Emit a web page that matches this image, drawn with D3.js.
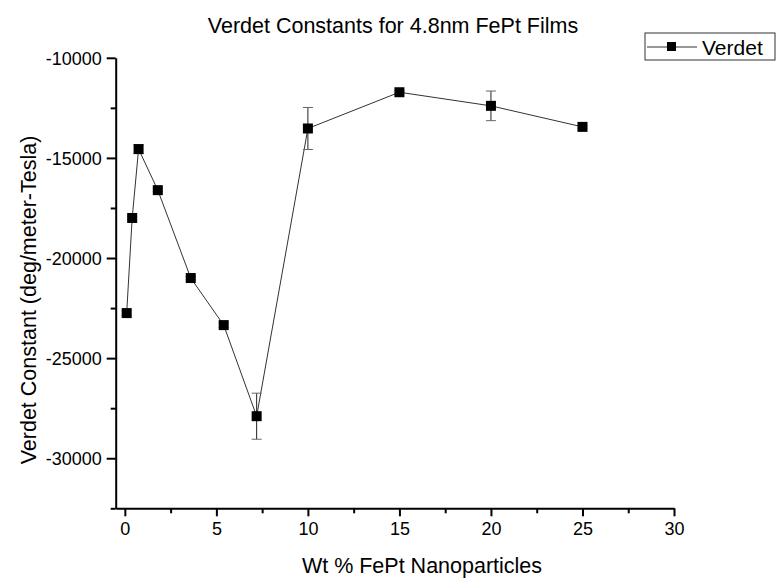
<!DOCTYPE html>
<html>
<head>
<meta charset="utf-8">
<script src="https://cdn.jsdelivr.net/npm/d3@7"></script>
<style>
  body { margin: 0; background: #fff; }
  text { font-family: "Liberation Sans", Arial, sans-serif; fill: #000; }
</style>
</head>
<body>
<div id="main"></div>
<script>
// data
var wtPercent = [0.1, 0.4, 0.75, 1.8, 3.6, 5.4, 7.2, 10, 15, 20, 25];
var verdet = [-22750, -18000, -14560, -16610, -21000, -23350, -27900, -13530, -11720, -12400, -13450];
var verdetErr = [120, 80, 220, 80, 80, 120, 1150, 1050, 60, 740, 60];
var xTicks = [0, 5, 10, 15, 20, 25, 30];
var yTicks = [-30000, -25000, -20000, -15000, -10000];

var CONFIG = {
  width: 777,
  height: 579,
  margin: { top: 57.8, right: 103, bottom: 70.7, left: 115.7 }
};

var width = CONFIG.width - CONFIG.margin.left - CONFIG.margin.right;
var height = CONFIG.height - CONFIG.margin.top - CONFIG.margin.bottom;

var data = wtPercent.map((d, i) => ({ x: d, y: verdet[i], err: verdetErr[i] }));

var xScale = d3.scaleLinear().domain([-0.5, 30]).range([0, width]);
var yScale = d3.scaleLinear().domain([-32500, -10000]).range([height, 0]);

var svg = d3.select("#main")
  .append("svg")
  .attr("width", CONFIG.width)
  .attr("height", CONFIG.height);

// title
svg.append("text")
  .attr("x", 393)
  .attr("y", 33)
  .attr("text-anchor", "middle")
  .style("font-size", "21.5px")
  .text("Verdet Constants for 4.8nm FePt Films");

var g = svg.append("g")
  .attr("transform", "translate(" + CONFIG.margin.left + "," + CONFIG.margin.top + ")");

// minor ticks
g.append("g")
  .attr("transform", "translate(0," + height + ")")
  .call(d3.axisBottom(xScale).tickValues(d3.range(2.5, 30, 5)).tickSize(5).tickFormat(""))
  .call(a => a.select(".domain").remove())
  .call(a => a.selectAll("line").attr("stroke-width", 2));

g.append("g")
  .call(d3.axisLeft(yScale).tickValues(d3.range(-32500, -10000, 5000)).tickSize(5).tickFormat(""))
  .call(a => a.select(".domain").remove())
  .call(a => a.selectAll("line").attr("stroke-width", 2));

// main axes
var xAxis = g.append("g")
  .attr("transform", "translate(0," + height + ")")
  .call(d3.axisBottom(xScale).tickValues(xTicks).tickFormat(d => String(d))
    .tickSize(8).tickSizeOuter(0).tickPadding(6));

var yAxis = g.append("g")
  .call(d3.axisLeft(yScale).tickValues(yTicks).tickFormat(d => String(d))
    .tickSize(9).tickSizeOuter(0).tickPadding(5));

[xAxis, yAxis].forEach(a => {
  a.select(".domain").attr("stroke-width", 2);
  a.selectAll("line").attr("stroke-width", 2);
  a.selectAll("text").style("font-size", "18px").attr("fill", "#000");
});
yAxis.selectAll("text").attr("dy", "0.35em");

// axis titles
svg.append("text")
  .attr("x", 422)
  .attr("y", 573)
  .attr("text-anchor", "middle")
  .style("font-size", "21.5px")
  .text("Wt % FePt Nanoparticles");

svg.append("text")
  .attr("transform", "translate(36,300) rotate(-90)")
  .attr("text-anchor", "middle")
  .style("font-size", "21.5px")
  .text("Verdet Constant (deg/meter-Tesla)");

// connecting line
g.append("path")
  .datum(data)
  .attr("fill", "none")
  .attr("stroke", "#333")
  .attr("stroke-width", 1)
  .attr("d", d3.line().x(d => xScale(d.x)).y(d => yScale(d.y)));

// error bars
var eb = g.append("g").attr("id", "errorbars")
  .selectAll("g")
  .data(data)
  .enter().append("g");

eb.append("line")
  .attr("x1", d => xScale(d.x))
  .attr("x2", d => xScale(d.x))
  .attr("y1", d => yScale(d.y - d.err))
  .attr("y2", d => yScale(d.y + d.err))
  .attr("stroke", "#222")
  .attr("stroke-width", 1);

[1, -1].forEach(s => {
  eb.append("line")
    .attr("x1", d => xScale(d.x) - 5)
    .attr("x2", d => xScale(d.x) + 5)
    .attr("y1", d => yScale(d.y + s * d.err))
    .attr("y2", d => yScale(d.y + s * d.err))
    .attr("stroke", "#666")
    .attr("stroke-width", 1);
});

// markers
g.append("g")
  .selectAll("rect")
  .data(data)
  .enter().append("rect")
  .attr("x", d => xScale(d.x) - 5)
  .attr("y", d => yScale(d.y) - 5)
  .attr("width", 10)
  .attr("height", 10)
  .attr("fill", "#000");

// legend
var legend = svg.append("g").attr("transform", "translate(645,33)");
legend.append("rect")
  .attr("width", 130)
  .attr("height", 27)
  .attr("fill", "#fff")
  .attr("stroke", "#333")
  .attr("stroke-width", 1);
legend.append("line")
  .attr("x1", 2).attr("x2", 52)
  .attr("y1", 14).attr("y2", 14)
  .attr("stroke", "#333");
legend.append("rect")
  .attr("x", 22).attr("y", 9)
  .attr("width", 9).attr("height", 9)
  .attr("fill", "#000");
legend.append("text")
  .attr("x", 57)
  .attr("y", 21.5)
  .style("font-size", "21px")
  .text("Verdet");
</script>
</body>
</html>
